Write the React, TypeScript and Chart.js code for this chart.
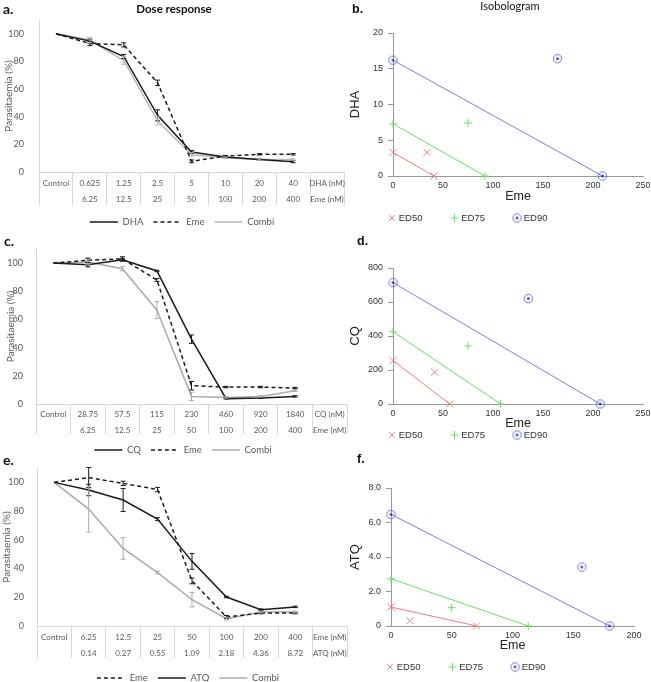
import React, { useEffect, useRef } from "react";
import { Chart, registerables } from "chart.js";

Chart.register(...registerables);

const DOSE_FONT = "Lato, 'Open Sans', sans-serif";
const ISO_FONT = "'Liberation Sans', Arial, sans-serif";

// ---------- a. DHA + Eme dose response ----------
const aRow1 = ["Control", "0.625", "1.25", "2.5", "5", "10", "20", "40", "DHA (nM)"];
const aRow2 = ["", "6.25", "12.5", "25", "50", "100", "200", "400", "Eme (nM)"];
const aDHA = [100, 94.7, 83.6, 41, 14.5, 10.8, 9, 7.5];
const aEme = [100, 93, 92, 64.5, 7.7, 11.5, 12.8, 12.8];
const aCombi = [100, 95.5, 80.7, 37, 12.5, 10.4, 9, 9];
const aDHAErr = [0, 1.5, 1.5, 4, 1, 0.5, 0.5, 0.8];
const aEmeErr = [0, 1.5, 1.5, 2, 1, 0.5, 0.5, 0.5];
const aCombiErr = [0, 2, 3, 3, 1.5, 0.5, 0.5, 0.5];

// ---------- c. CQ + Eme dose response ----------
const cRow1 = ["Control", "28.75", "57.5", "115", "230", "460", "920", "1840", "CQ (nM)"];
const cRow2 = ["", "6.25", "12.5", "25", "50", "100", "200", "400", "Eme (nM)"];
const cCQ = [100, 98.8, 102.4, 94.4, 46, 3.8, 4.2, 5.4];
const cEme = [100, 102, 103, 88, 13, 12, 12, 11.3];
const cCombi = [100, 100.7, 96, 66.6, 5.4, 4.7, 5.4, 9.4];
const cCQErr = [0, 1.5, 1, 0.5, 3, 0.3, 0.3, 0.5];
const cEmeErr = [0, 1.5, 1.5, 1, 3, 0.5, 0.5, 0.5];
const cCombiErr = [0, 1.5, 1.5, 6, 3, 0.5, 0.5, 0.5];

// ---------- e. Eme + ATQ dose response ----------
const eRow1 = ["Control", "6.25", "12.5", "25", "50", "100", "200", "400", "Eme (nM)"];
const eRow2 = ["", "0.14", "0.27", "0.55", "1.09", "2.18", "4.36", "8.72", "ATQ (nM)"];
const eEme = [100, 103.3, 99.3, 95, 31.4, 6.3, 9, 9];
const eATQ = [100, 94.7, 87.7, 74.4, 45, 20.2, 11.4, 13.3];
const eCombi = [100, 81.4, 54, 37.2, 18.4, 5.1, 9.8, 9.8];
const eEmeErr = [0, 7, 1.5, 1.5, 2, 1, 0.5, 0.5];
const eATQErr = [0, 4, 8, 1, 5.5, 0.5, 0.5, 0.5];
const eCombiErr = [0, 16, 7.5, 1, 5, 1, 0.5, 0.5];

// ---------- b. Isobologram DHA / Eme ----------
const bED50Line = [{ x: 0, y: 3.3 }, { x: 41, y: 0 }];
const bED50Combo = [{ x: 34, y: 3.3 }];
const bED75Line = [{ x: 0, y: 7.3 }, { x: 92, y: 0 }];
const bED75Combo = [{ x: 75, y: 7.4 }];
const bED90Line = [{ x: 0, y: 16.2 }, { x: 209.5, y: 0 }];
const bED90Combo = [{ x: 164.5, y: 16.4 }];

// ---------- d. Isobologram CQ / Eme ----------
const dED50Line = [{ x: 0, y: 256 }, { x: 56.7, y: 0 }];
const dED50Combo = [{ x: 41.7, y: 187 }];
const dED75Line = [{ x: 0, y: 425 }, { x: 107.7, y: 0 }];
const dED75Combo = [{ x: 75, y: 341 }];
const dED90Line = [{ x: 0, y: 714 }, { x: 207.3, y: 0 }];
const dED90Combo = [{ x: 135.3, y: 620 }];

// ---------- f. Isobologram ATQ / Eme ----------
const fED50Line = [{ x: 0, y: 1.1 }, { x: 70.4, y: 0 }];
const fED50Combo = [{ x: 15.6, y: 0.31 }];
const fED75Line = [{ x: 0, y: 2.74 }, { x: 113, y: 0 }];
const fED75Combo = [{ x: 49.9, y: 1.06 }];
const fED90Line = [{ x: 0, y: 6.47 }, { x: 180, y: 0 }];
const fED90Combo = [{ x: 157, y: 3.42 }];

const BLACK = "#1a1a1a";
const GREY = "#ababab";
const AXIS = "#d9d9d9";
const TXT = "#595959";
const RED = "rgb(238,125,125)";
const GREEN = "rgb(105,222,105)";
const BLUE = "rgb(125,125,225)";

// ---------- plugins ----------
const errorBarsPlugin = {
  id: "errorBars",
  afterDatasetsDraw(chart: any) {
    const ctx = chart.ctx;
    chart.data.datasets.forEach((ds: any, di: number) => {
      if (!ds.errors) return;
      const meta = chart.getDatasetMeta(di);
      const ys = chart.scales[meta.yAxisID];
      ctx.save();
      ctx.strokeStyle = ds.errorColor || ds.borderColor;
      ctx.lineWidth = 1;
      ctx.setLineDash([]);
      meta.data.forEach((pt: any, i: number) => {
        const e = ds.errors[i];
        const v = ds.data[i];
        if (!e || v == null) return;
        const x = pt.x;
        const yt = ys.getPixelForValue(v + e);
        const yb = ys.getPixelForValue(v - e);
        ctx.beginPath();
        ctx.moveTo(x, yt);
        ctx.lineTo(x, yb);
        ctx.moveTo(x - 2.5, yt);
        ctx.lineTo(x + 2.5, yt);
        ctx.moveTo(x - 2.5, yb);
        ctx.lineTo(x + 2.5, yb);
        ctx.stroke();
      });
      ctx.restore();
    });
  },
};

const legendPlacePlugin = {
  id: "legendPlace",
  afterLayout(chart: any, _a: any, opts: any) {
    const l = chart.legend;
    if (!l || !opts || opts.cy == null) return;
    const h = l.height;
    const w = l.width;
    l.top = opts.cy - opts.pad - opts.fs / 2;
    l.bottom = l.top + h;
    if (opts.align === "start") {
      l.left = opts.x - opts.pad;
      l.right = l.left + w;
    } else {
      const c = (l.left + l.right) / 2;
      const d = opts.x - c;
      l.left += d;
      l.right += d;
    }
  },
};

// ---------- dose response config ----------
type DoseSeries = { label: string; data: number[]; err: number[]; color: string; dash: number[]; width: number };
type DoseGeo = {
  L: number; T: number; W: number; H: number;
  x0: number; x1: number; y0: number; y1: number;
  xH: number; tl: number; tickPad: number; yPad: number; titlePad: number;
  legendX: number; legendY: number;
};

const DOSE_LEGEND_FS = 9.5;
const DOSE_LEGEND_PAD = 10;

function doseConfig(g: DoseGeo, row1: string[], row2: string[], series: DoseSeries[]): any {
  const legendH = DOSE_LEGEND_FS + DOSE_LEGEND_PAD + 10;
  const padBottom = g.T + g.H - g.y1 - g.xH - legendH;
  return {
    type: "line",
    data: {
      labels: row1.map((r, i) => [r, row2[i]]),
      datasets: series.map((s) => ({
        label: s.label,
        data: s.data,
        errors: s.err,
        borderColor: s.color,
        backgroundColor: s.color,
        borderWidth: s.width,
        borderDash: s.dash,
        pointRadius: 0,
        pointHoverRadius: 0,
        tension: 0,
        fill: false,
        clip: false,
      })),
    },
    options: {
      responsive: false,
      animation: false,
      events: [],
      layout: { padding: { left: 0, top: g.y0 - g.T, right: g.L + g.W - g.x1, bottom: padBottom } },
      scales: {
        x: {
          type: "category",
          offset: true,
          grid: { display: true, offset: true, drawOnChartArea: false, drawTicks: true, tickLength: g.tl, color: AXIS, lineWidth: 1 },
          border: { display: true, color: AXIS },
          ticks: {
            autoSkip: false, maxRotation: 0, minRotation: 0, padding: g.tickPad, color: TXT,
            font: { family: DOSE_FONT, size: 8, lineHeight: "16px" },
          },
          afterFit: (s: any) => { s.height = g.xH; },
        },
        y: {
          min: 0, max: 110,
          ticks: { stepSize: 20, padding: g.yPad, color: TXT, font: { family: DOSE_FONT, size: 9 } },
          afterBuildTicks: (s: any) => { s.ticks = s.ticks.filter((t: any) => t.value % 20 === 0); },
          grid: { display: false },
          border: { display: true, color: AXIS },
          title: { display: true, text: "Parasitaemia (%)", color: TXT, font: { family: DOSE_FONT, size: 10 }, padding: { top: g.titlePad, bottom: 0 } },
          afterFit: (s: any) => { s.width = g.x0 - g.L; },
        },
      },
      plugins: {
        tooltip: { enabled: false },
        legend: {
          display: true,
          position: "bottom",
          labels: {
            usePointStyle: true,
            pointStyle: "line",
            pointStyleWidth: 28,
            padding: DOSE_LEGEND_PAD,
            color: TXT,
            font: { family: DOSE_FONT, size: DOSE_LEGEND_FS },
            generateLabels: (chart: any) => {
              const items = (Chart.defaults.plugins.legend.labels as any).generateLabels(chart);
              items.forEach((it: any) => {
                const ds = chart.data.datasets[it.datasetIndex];
                it.lineDash = ds.borderDash || [];
                it.lineWidth = ds.borderWidth;
                it.strokeStyle = ds.borderColor;
                it.pointStyle = "line";
              });
              return items;
            },
          },
        },
        legendPlace: { x: g.legendX - g.L, cy: g.legendY - g.T, pad: DOSE_LEGEND_PAD, fs: DOSE_LEGEND_FS, align: "center" },
      },
    },
    plugins: [errorBarsPlugin, legendPlacePlugin],
  };
}

// ---------- isobologram config ----------
type IsoGeo = {
  L: number; T: number; W: number; H: number;
  x0: number; x1: number; y0: number; y1: number;
  xH: number; legendX: number; legendY: number;
};
type IsoSet = { label: string; line: { x: number; y: number }[]; combo: { x: number; y: number }[]; color: string; marker: string };

const ISO_LEGEND_FS = 9.5;
const ISO_LEGEND_PAD = 30;

function circleDot(): HTMLCanvasElement {
  const c = document.createElement("canvas");
  c.width = 11;
  c.height = 11;
  const ctx = c.getContext("2d")!;
  ctx.strokeStyle = "rgb(110,110,220)";
  ctx.lineWidth = 1;
  ctx.beginPath();
  ctx.arc(5.5, 5.5, 4.2, 0, Math.PI * 2);
  ctx.stroke();
  ctx.fillStyle = "rgb(40,40,140)";
  ctx.beginPath();
  ctx.arc(5.5, 5.5, 1.3, 0, Math.PI * 2);
  ctx.fill();
  return c;
}

function isoConfig(g: IsoGeo, yTitle: string, xMax: number, yMax: number, yStep: number, yFmt: (v: number) => string, sets: IsoSet[]): any {
  const legendH = ISO_LEGEND_FS + ISO_LEGEND_PAD + 10;
  const padBottom = g.T + g.H - g.y1 - g.xH - legendH;
  const dot = circleDot();
  const markerProps = (s: IsoSet) => {
    if (s.marker === "circleDot") return { pointStyle: dot, pointRadius: 5 };
    if (s.marker === "crossRot") return { pointStyle: "crossRot", pointRadius: 5 };
    return { pointStyle: "cross", pointRadius: 3.8 };
  };
  const datasets: any[] = [];
  sets.forEach((s) => {
    const common = {
      borderColor: s.color,
      backgroundColor: s.color,
      pointBorderColor: s.color,
      pointBorderWidth: 1,
      borderWidth: 1,
      clip: false,
      ...markerProps(s),
    };
    datasets.push({ label: s.label, data: s.line, showLine: true, ...common });
    datasets.push({ label: s.label, data: s.combo, showLine: false, ...common });
  });
  return {
    type: "scatter",
    data: { datasets },
    options: {
      responsive: false,
      animation: false,
      events: [],
      layout: { padding: { left: 0, top: g.y0 - g.T, right: g.L + g.W - g.x1, bottom: padBottom } },
      scales: {
        x: {
          type: "linear", min: 0, max: xMax,
          ticks: { stepSize: 50, padding: 4, color: "#333", font: { family: ISO_FONT, size: 9 } },
          grid: { display: false, drawTicks: false, tickLength: 0 },
          border: { display: true, color: "#999" },
          title: { display: true, text: "Eme", color: "#222", font: { family: ISO_FONT, size: 12.5 }, padding: { top: 0, bottom: 0 } },
          afterFit: (s: any) => { s.height = g.xH; },
        },
        y: {
          type: "linear", min: 0, max: yMax,
          ticks: { stepSize: yStep, padding: 5, color: "#333", font: { family: ISO_FONT, size: 9 }, callback: (v: any) => yFmt(Number(v)) },
          grid: { display: true, drawOnChartArea: false, drawTicks: true, tickLength: 5, color: "#999" },
          border: { display: true, color: "#999" },
          title: { display: true, text: yTitle, color: "#222", font: { family: ISO_FONT, size: 13 }, padding: { top: 1.2, bottom: 0 } },
          afterFit: (s: any) => { s.width = g.x0 - g.L; },
        },
      },
      plugins: {
        tooltip: { enabled: false },
        legend: {
          display: true,
          position: "bottom",
          align: "start",
          labels: {
            usePointStyle: true,
            boxWidth: 4,
            boxHeight: 5.5,
            padding: ISO_LEGEND_PAD,
            color: "#333",
            font: { family: ISO_FONT, size: ISO_LEGEND_FS },
            filter: (item: any) => item.datasetIndex % 2 === 1,
          },
        },
        legendPlace: { x: g.legendX - g.L, cy: g.legendY - g.T, pad: ISO_LEGEND_PAD, fs: ISO_LEGEND_FS, align: "start" },
      },
    },
    plugins: [legendPlacePlugin],
  };
}

// ---------- components ----------
function ChartCanvas({ left, top, width, height, build }: { left: number; top: number; width: number; height: number; build: () => any }) {
  const ref = useRef<HTMLCanvasElement>(null);
  useEffect(() => {
    const chart = new Chart(ref.current as HTMLCanvasElement, build());
    return () => chart.destroy();
  }, []);
  return <canvas ref={ref} width={width} height={height} style={{ position: "absolute", left, top, width, height }} />;
}

function Txt({ text, x, cy, size, bold, family, center }: { text: string; x: number; cy: number; size: number; bold?: boolean; family: string; center?: boolean }) {
  const lh = Math.round(size * 1.3);
  const style: any = {
    position: "absolute",
    top: cy - lh / 2,
    lineHeight: lh + "px",
    fontSize: size,
    fontFamily: family,
    fontWeight: bold ? 700 : 400,
    color: "#111",
    whiteSpace: "nowrap",
  };
  if (center) {
    style.left = x - 100;
    style.width = 200;
    style.textAlign = "center";
  } else {
    style.left = x;
  }
  return <div style={style}>{text}</div>;
}

const geoA: DoseGeo = { L: 0, T: 0, W: 350, H: 241, x0: 39, x1: 344, y0: 20, y1: 172, xH: 35, tl: 33, tickPad: -30, yPad: 7, titlePad: 3, legendX: 182, legendY: 222 };
const geoC: DoseGeo = { L: 0, T: 228, W: 350, H: 241, x0: 36, x1: 347, y0: 249, y1: 404, xH: 31, tl: 30, tickPad: -28, yPad: 5, titlePad: 5, legendX: 183, legendY: 450 };
const geoE: DoseGeo = { L: 0, T: 452, W: 350, H: 245, x0: 37, x1: 347, y0: 468, y1: 626, xH: 37, tl: 32, tickPad: -29, yPad: 5, titlePad: 1, legendX: 188, legendY: 678 };

const geoB: IsoGeo = { L: 346, T: 0, W: 320, H: 258, x0: 393, x1: 643, y0: 33, y1: 176, xH: 28, legendX: 390, legendY: 218 };
const geoD: IsoGeo = { L: 346, T: 226, W: 320, H: 259, x0: 393, x1: 643, y0: 268, y1: 404, xH: 27, legendX: 390, legendY: 435 };
const geoF: IsoGeo = { L: 346, T: 446, W: 320, H: 261, x0: 391, x1: 634, y0: 488, y1: 626, xH: 27, legendX: 388, legendY: 667 };

function dosePanel(g: DoseGeo, row1: string[], row2: string[], series: DoseSeries[]) {
  return <ChartCanvas left={g.L} top={g.T} width={g.W} height={g.H} build={() => doseConfig(g, row1, row2, series)} />;
}

function isoPanel(g: IsoGeo, yTitle: string, xMax: number, yMax: number, yStep: number, yFmt: (v: number) => string, sets: IsoSet[]) {
  return <ChartCanvas left={g.L} top={g.T} width={g.W} height={g.H} build={() => isoConfig(g, yTitle, xMax, yMax, yStep, yFmt, sets)} />;
}

const intFmt = (v: number) => String(v);
const oneDecFmt = (v: number) => (v === 0 ? "0" : v.toFixed(1));

export default function App() {
  return (
    <div style={{ position: "absolute", left: 0, top: 0, width: 651, height: 682, overflow: "hidden", background: "#fff" }}>
      {dosePanel(geoA, aRow1, aRow2, [
        { label: "DHA", data: aDHA, err: aDHAErr, color: BLACK, dash: [], width: 1.5 },
        { label: "Eme", data: aEme, err: aEmeErr, color: BLACK, dash: [4, 3], width: 1.5 },
        { label: "Combi", data: aCombi, err: aCombiErr, color: "#b8b8b8", dash: [], width: 1.5 },
      ])}
      {dosePanel(geoC, cRow1, cRow2, [
        { label: "CQ", data: cCQ, err: cCQErr, color: BLACK, dash: [], width: 1.5 },
        { label: "Eme", data: cEme, err: cEmeErr, color: BLACK, dash: [4, 3], width: 1.5 },
        { label: "Combi", data: cCombi, err: cCombiErr, color: GREY, dash: [], width: 1.5 },
      ])}
      {dosePanel(geoE, eRow1, eRow2, [
        { label: "Eme", data: eEme, err: eEmeErr, color: BLACK, dash: [4, 3], width: 1.5 },
        { label: "ATQ", data: eATQ, err: eATQErr, color: BLACK, dash: [], width: 1.5 },
        { label: "Combi", data: eCombi, err: eCombiErr, color: GREY, dash: [], width: 1.5 },
      ])}
      {isoPanel(geoB, "DHA", 250, 20, 5, intFmt, [
        { label: "ED50", line: bED50Line, combo: bED50Combo, color: RED, marker: "crossRot" },
        { label: "ED75", line: bED75Line, combo: bED75Combo, color: GREEN, marker: "cross" },
        { label: "ED90", line: bED90Line, combo: bED90Combo, color: BLUE, marker: "circleDot" },
      ])}
      {isoPanel(geoD, "CQ", 250, 800, 200, intFmt, [
        { label: "ED50", line: dED50Line, combo: dED50Combo, color: RED, marker: "crossRot" },
        { label: "ED75", line: dED75Line, combo: dED75Combo, color: GREEN, marker: "cross" },
        { label: "ED90", line: dED90Line, combo: dED90Combo, color: BLUE, marker: "circleDot" },
      ])}
      {isoPanel(geoF, "ATQ", 200, 8, 2, oneDecFmt, [
        { label: "ED50", line: fED50Line, combo: fED50Combo, color: RED, marker: "crossRot" },
        { label: "ED75", line: fED75Line, combo: fED75Combo, color: GREEN, marker: "cross" },
        { label: "ED90", line: fED90Line, combo: fED90Combo, color: BLUE, marker: "circleDot" },
      ])}
      <Txt text="a." x={3} cy={9} size={14} bold family={DOSE_FONT} />
      <Txt text="Dose response" x={174} cy={8} size={11.5} bold family={DOSE_FONT} center />
      <Txt text="b." x={352} cy={9} size={12.5} bold family={ISO_FONT} />
      <Txt text="Isobologram" x={510} cy={6} size={11} family={DOSE_FONT} center />
      <Txt text="c." x={4} cy={241} size={14} bold family={DOSE_FONT} />
      <Txt text="d." x={357} cy={241} size={12.5} bold family={ISO_FONT} />
      <Txt text="e." x={3} cy={460} size={14} bold family={DOSE_FONT} />
      <Txt text="f." x={357} cy={459} size={12.5} bold family={ISO_FONT} />
    </div>
  );
}
